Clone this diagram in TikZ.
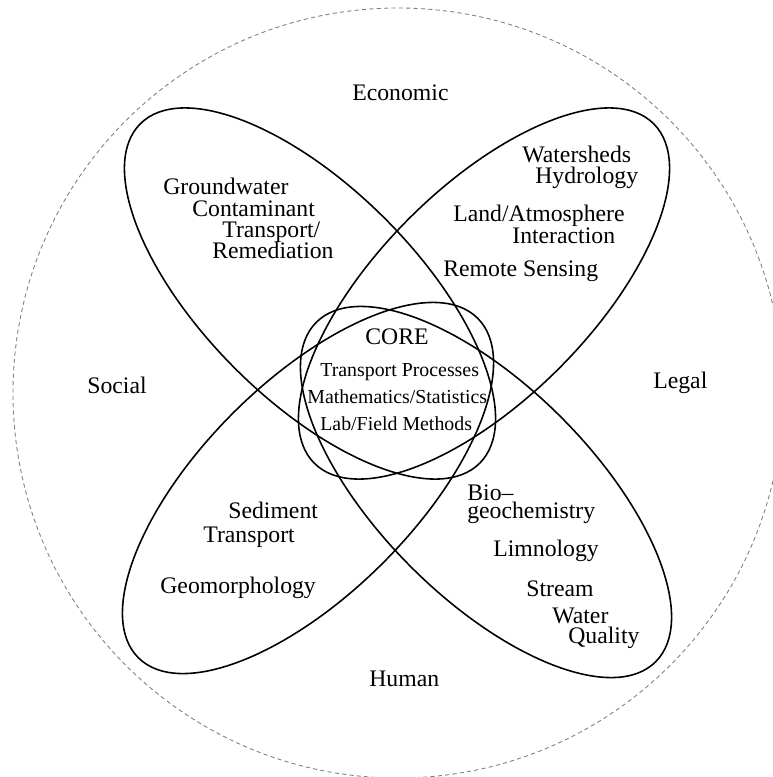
\documentclass[tikz,border=0pt]{standalone}
\usepackage{fontspec}
\setmainfont{Liberation Serif}
\tikzset{petal/.style={draw,line width=0.9pt},
         outer/.style={draw=black!50,line width=0.5pt,dash pattern=on 2.4pt off 1.8pt},
         area/.style={anchor=base west,inner sep=0pt,font=\fontsize{13.5}{16}\selectfont},
         coretext/.style={anchor=base west,inner sep=0pt,font=\fontsize{11.3}{14}\selectfont},
        }
\begin{document}
\begin{tikzpicture}[x=0.02cm,y=-0.02cm]
        \useasboundingbox (0,0) rectangle (773,777);
        \coordinate (c) at (398,393);
        \draw[outer] (c) circle [radius=385];

        \coordinate (tl) at (310,293.5);
        \coordinate (tr) at (484,293.5);
        \coordinate (br) at (486,492);
        \coordinate (bl) at (308,488);
        \draw[petal,shift={(tl)},rotate=-45] (0,0) ellipse [x radius=240,y radius=106];
        \draw[petal,shift={(tr)},rotate=45] (0,0) ellipse [x radius=240,y radius=106];
        \draw[petal,shift={(br)},rotate=-45] (0,0) ellipse [x radius=240,y radius=106];
        \draw[petal,shift={(bl)},rotate=45] (0,0) ellipse [x radius=240,y radius=106];

        \node[area](econ)at(352,100){Economic};
        \node[area](social)at(87,393){Social};
        \node[area](legal)at(653,388){Legal};
        \node[area](human)at(369,686){Human};

        \node[area](gw1)at(163,194){Groundwater};
        \node[area](gw2)at(192,216){Contaminant};
        \node[area](gw3)at(222,237){Transport/};
        \node[area](gw4)at(212,258){Remediation};

        \node[area](ws1)at(522,162){Watersheds};
        \node[area](ws2)at(535,183){Hydrology};
        \node[area](ws3)at(453,221){Land/Atmosphere};
        \node[area](ws4)at(512,243){Interaction};
        \node[area](ws5)at(443,276){Remote Sensing};

        \node[area](bio1)at(467,500){Bio--};
        \node[area](bio2)at(467,518){geochemistry};
        \node[area](bio3)at(493,556){Limnology};
        \node[area](bio4)at(526,596){Stream};
        \node[area](bio5)at(552,623){Water};
        \node[area](bio6)at(568,643){Quality};

        \node[area](sed1)at(228,518){Sediment};
        \node[area](sed2)at(203,542){Transport};
        \node[area](sed3)at(160,593){Geomorphology};

        \node[area](core0)at(365,344){CORE};
        \node[coretext](core1)at(320,376){Transport Processes};
        \node[coretext](core2)at(307,403){Mathematics/Statistics};
        \node[coretext](core3)at(320,430){Lab/Field Methods};
    \end{tikzpicture}
\end{document}
